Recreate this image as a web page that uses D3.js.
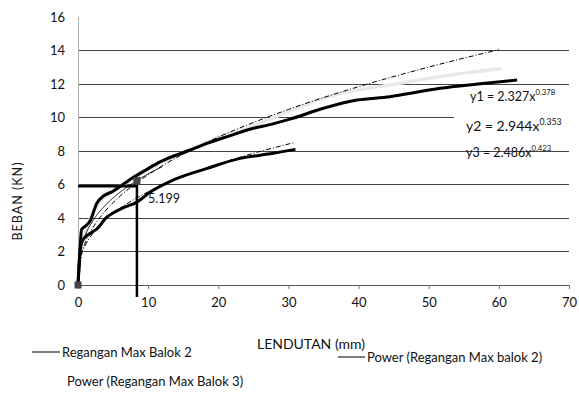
<!DOCTYPE html>
<html>
<head>
<meta charset="utf-8">
<script src="https://cdn.jsdelivr.net/npm/d3@7"></script>
<style>
  body { margin: 0; background: #fff; }
  svg text { font-family: Lato, "Open Sans", sans-serif; fill: #111; }
</style>
</head>
<body>
<div id="chart"></div>
<script>
// measured curves (x = lendutan mm, y = beban kN)
const balok2Upper = [[0,0],[0.3,2.2],[0.5,3.3],[1,3.5],[1.7,3.8],[2.7,4.9],[3.6,5.3],[5,5.6],[6.4,6.0],[7.8,6.4],[9.8,6.9],
  [11.7,7.35],[16,8.06],[18.4,8.46],[21.7,8.92],[24.5,9.3],[27.8,9.62],[30.2,9.9],[35,10.55],[39.8,11.04],
  [44.5,11.24],[47.4,11.45],[51.6,11.74],[57,12.0],[62.6,12.24]];
const balok3Gray = [[0,0],[0.3,1.8],[1,3.0],[2,4.2],[3,4.9],[5,5.6],[8,6.4],[12,7.3],[16,8.1],[20,8.8],[25,9.5],
  [30,10.35],[35,11.16],[39.8,11.64],[44.5,11.94],[51.6,12.44],[55,12.65],[60.4,12.93]];
const balokLower = [[0,0],[0.3,2.1],[0.7,2.7],[1,2.85],[2,3.15],[2.7,3.35],[4.1,4.05],[5,4.3],[6.4,4.6],[8.4,4.95],
  [10.3,5.55],[13.6,6.27],[18.4,6.96],[23.1,7.56],[27.8,7.86],[31,8.1]];

// trend lines
const trendY1 = [[0,0],[0.5,1.79],[1,2.33],[2,3.02],[4,3.93],[6,4.58],[8,5.11],[10,5.56],[15,6.48],[20,7.22],[25,7.86],[30.7,8.49]];
const trendY2 = [[0,0],[0.5,2.31],[1,2.94],[2,3.76],[4,4.8],[6,5.54],[8,6.13],[10,6.64],[12,7.05]];
const trendY3 = [[0,0],[0.5,1.85],[1,2.49],[2,3.33],[4,4.47],[6,5.31],[8,5.99],[10,6.58],[15,7.82],[20,8.83],[25,9.7],[30,10.48],[40,11.84],[50,13.01],[60,14.05]];

// guide for 5.199 reading
const guideLine = [[0,5.9],[8.4,5.9],[8.4,-0.72]];
const markers = [[0,0],[8.4,6.24]];

const xTicks = [0,10,20,30,40,50,60,70];
const yTicks = [0,2,4,6,8,10,12,14,16];
const gridValues = [2,4,6,8,10,12,14];

const W = 579, H = 394;
const svg = d3.select("#chart").append("svg").attr("width", W).attr("height", H);

const x = d3.scaleLinear().domain([0,70]).range([78,569]);
const y = d3.scaleLinear().domain([0,16]).range([285,17]);

// grid
svg.append("g").selectAll("line").data(gridValues).enter().append("line")
  .attr("x1", x(0)).attr("x2", x(70))
  .attr("y1", d => y(d)).attr("y2", d => y(d))
  .attr("stroke", "#444").attr("stroke-width", 1).attr("shape-rendering", "crispEdges");

// y axis line (light)
svg.append("line").attr("x1", x(0)).attr("x2", x(0)).attr("y1", y(16)).attr("y2", y(0))
  .attr("stroke", "#b0b0b0").attr("shape-rendering", "crispEdges");

// x axis
const xAxis = svg.append("g").attr("transform", "translate(0," + y(0) + ")")
  .call(d3.axisBottom(x).tickValues(xTicks).tickSize(4).tickSizeOuter(0).tickPadding(9));
xAxis.select(".domain").attr("stroke", "#555");
xAxis.selectAll(".tick line").attr("stroke", "#777");
xAxis.selectAll(".tick text").attr("font-size", 13).attr("fill", "#111")
  .style("font-family", "Lato, sans-serif");

// y labels
svg.append("g").selectAll("text").data(yTicks).enter().append("text")
  .attr("x", 65).attr("y", d => y(d)).attr("dy", "0.35em")
  .attr("text-anchor", "end").attr("font-size", 13).text(d => d);

const line = d3.line().x(d => x(d[0])).y(d => y(d[1])).curve(d3.curveMonotoneX);
const straight = d3.line().x(d => x(d[0])).y(d => y(d[1]));

svg.append("path").datum(balok3Gray).attr("d", line)
  .attr("fill", "none").attr("stroke", "#e8e8e8").attr("stroke-width", 3.5);
svg.append("path").datum(trendY3).attr("d", line)
  .attr("fill", "none").attr("stroke", "#000").attr("stroke-width", 1).attr("stroke-dasharray", "5,2,1,2");
svg.append("path").datum(trendY2).attr("d", line)
  .attr("fill", "none").attr("stroke", "#000").attr("stroke-width", 0.8);
svg.append("path").datum(balok2Upper).attr("d", line)
  .attr("fill", "none").attr("stroke", "#000").attr("stroke-width", 3);
svg.append("path").datum(balokLower).attr("d", line)
  .attr("fill", "none").attr("stroke", "#000").attr("stroke-width", 3);
svg.append("path").datum(trendY1).attr("d", line)
  .attr("fill", "none").attr("stroke", "#000").attr("stroke-width", 1).attr("stroke-dasharray", "5,2,1,2");

svg.append("path").datum(guideLine).attr("d", straight)
  .attr("fill", "none").attr("stroke", "#000").attr("stroke-width", 2.5);

svg.append("g").selectAll("rect").data(markers).enter().append("rect")
  .attr("x", d => x(d[0]) - 3.5).attr("y", d => y(d[1]) - 3.5)
  .attr("width", 7).attr("height", 7).attr("fill", "#444");

// equation labels
function eq(xp, yp, base, exp, size, bg) {
  const g = svg.append("g");
  if (bg) g.append("rect").attr("x", xp - 12).attr("y", yp - 14).attr("width", 130).attr("height", 20).attr("fill", "#fff");
  const t = g.append("text").attr("x", xp).attr("y", yp).attr("font-size", size).attr("fill", "#333");
  t.append("tspan").text(base);
  t.append("tspan").attr("dy", -6).attr("font-size", size * 0.62).text(exp);
}
eq(470, 101, "y1 = 2.327x", "0.378", 12.5, false);
eq(466, 131, "y2 = 2.944x", "0.353", 14, true);
eq(466, 157, "y3 = 2.486x", "0.423", 12.5, false);

svg.append("text").attr("x", 148).attr("y", 203).attr("font-size", 12.5).text("5.199");

// axis titles
svg.append("text").attr("transform", "translate(22,201) rotate(-90)")
  .attr("text-anchor", "middle").attr("font-size", 12.5).attr("letter-spacing", 1).text("BEBAN  (KN)");
svg.append("text").attr("x", 311).attr("y", 349).attr("text-anchor", "middle").attr("font-size", 14).text("LENDUTAN (mm)");

// legend
svg.append("line").attr("x1", 32).attr("x2", 60).attr("y1", 352).attr("y2", 352).attr("stroke", "#000");
svg.append("text").attr("x", 62).attr("y", 357).attr("font-size", 13).text("Regangan Max Balok 2");
svg.append("line").attr("x1", 338).attr("x2", 365).attr("y1", 357).attr("y2", 357).attr("stroke", "#000");
svg.append("text").attr("x", 367).attr("y", 362).attr("font-size", 13).text("Power (Regangan Max balok 2)");
svg.append("text").attr("x", 67).attr("y", 386).attr("font-size", 13).text("Power (Regangan Max Balok 3)");
</script>
</body>
</html>
